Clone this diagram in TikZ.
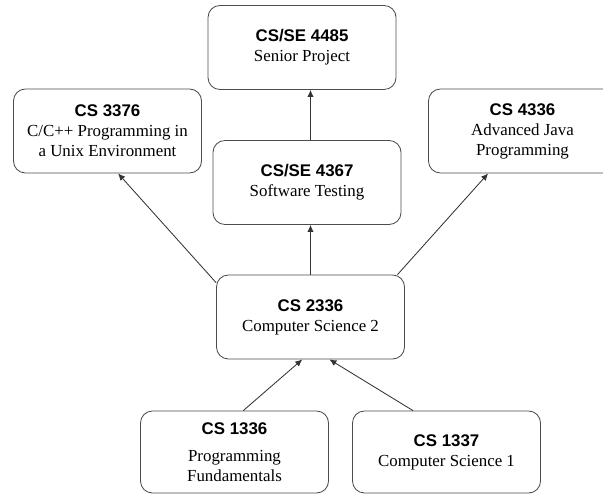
\documentclass[tikz,border=0pt]{standalone}
\usepackage{fontspec}
\setmainfont{Liberation Serif}
\setsansfont{Liberation Sans}
\usepackage{tikz}
\usetikzlibrary{arrows.meta}

\newcommand{\crs}[1]{{\sffamily\bfseries #1}}

\tikzset{
    course/.style={draw=black!70, line width=0.6pt, rounded corners=0.3cm,
        minimum width=4.7cm, minimum height=2.1cm, align=center,
        font=\fontsize{12}{14.2}\selectfont},
    prereq/.style={draw=black!80, line width=0.6pt, -{Latex[length=5pt,width=4.5pt]}}
}

\begin{document}
\begin{tikzpicture}[x=0.025cm,y=-0.025cm]
    \useasboundingbox (0,0) rectangle (603,494);
    \clip (0,0) rectangle (603,494);

    % top row
    \node[course] (cs4485) at (302,47.5) {\crs{CS/SE 4485}\\ Senior Project};
    \node[course] (cs3376) at (107.5,131) {\crs{CS 3376}\\ C/C++ Programming in\\ a Unix Environment};
    \node[course] (cs4367) at (307,182.5) {\crs{CS/SE 4367}\\ Software Testing};
    \node[course] (cs4336) at (522.5,131) {\crs{CS 4336}\\ Advanced Java\\ Programming};

    % middle
    \node[course] (cs2336) at (310.5,317) {\crs{CS 2336}\\ Computer Science 2};

    % bottom row
    \node[course, minimum height=2.05cm] (cs1336) at (234.5,452) {\crs{CS 1336}\\[5pt] Programming\\ Fundamentals};
    \node[course, minimum height=2.05cm] (cs1337) at (446.5,452) {\crs{CS 1337}\\ Computer Science 1};

    % prerequisites
    \draw[prereq] (cs2336.160) -- (cs3376.284);
    \draw[prereq] (cs2336.north) -- (cs2336.north |- cs4367.south);
    \draw[prereq] (cs2336.north |- cs4367.north) -- (cs2336.north |- cs4485.south);
    \draw[prereq] (cs2336.26) -- (cs4336.231);
    \draw[prereq] (cs1336.78) -- (cs2336.259);
    \draw[prereq] (cs1337.129) -- (cs2336.294);
\end{tikzpicture}
\end{document}
